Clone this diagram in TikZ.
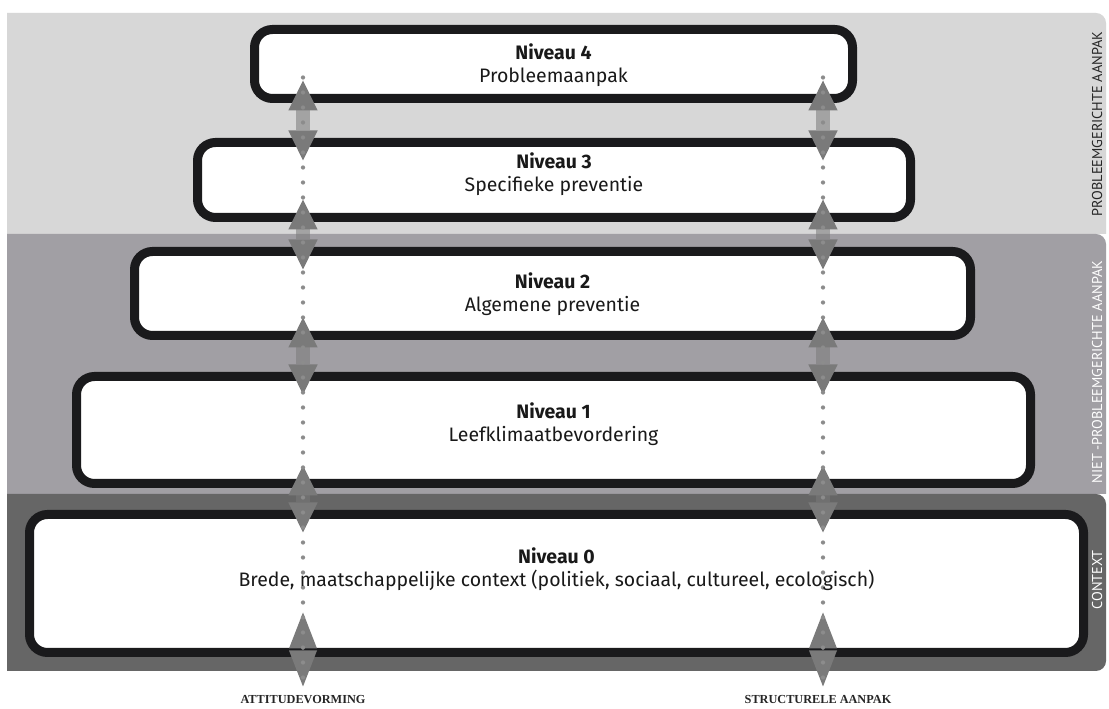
\documentclass[tikz,border=0pt]{standalone}
\usepackage{fontspec}
\setmainfont{Fira Sans}
\newfontfamily\sidefont{PT Sans}
\newfontfamily\labserif{Liberation Serif}
\usetikzlibrary{arrows.meta,calc}
\definecolor{bandA}{HTML}{D7D7D7}
\definecolor{bandB}{HTML}{A19FA4}
\definecolor{bandC}{HTML}{666666}
\definecolor{boxline}{HTML}{1A1A1C}
\definecolor{arrgray}{HTML}{7A7A7A}
\definecolor{dotgray}{HTML}{8C8C8C}
\begin{document}
\begin{tikzpicture}[x=0.75pt,y=0.75pt,
  levelbox/.style={draw=boxline, fill=white, line width=6.75pt, rounded corners=13.5pt, outer sep=0pt, inner sep=0pt},
  leveltext/.style={align=center, font=\fontsize{14.6}{17.4}\selectfont, text=black!90},
  gaparrow/.style={draw=arrgray, draw opacity=0.55, line width=10pt,
     {Triangle[length=22.5pt,width=22pt,line width=0pt]}-{Triangle[length=22.5pt,width=22pt,line width=0pt]}},
  endarrow/.style={draw=arrgray, draw opacity=0.55, line width=1pt,
     {Triangle[length=27pt,width=21pt,line width=0pt]}-{Triangle[length=27pt,width=21pt,line width=0pt]}},
  dotline/.style={draw=dotgray, line width=3.2pt, line cap=round, dash pattern=on 0pt off 11.25pt},
  sidelabel/.style={rotate=90, font=\sidefont\fontsize{10.7}{12}\selectfont},
  footlabel/.style={font=\labserif\bfseries\fontsize{9.2}{11}\selectfont, text=black!85}
]
\useasboundingbox (0,0) rectangle (1109,709);
\fill[white] (0,0) rectangle (1109,709);
% bands
\fill[bandA] (7,475) -- (7,696) -- (1096,696) arc[start angle=90,end angle=0,radius=10] -- (1106,475) -- cycle;
\fill[bandB] (7,215) -- (7,475) -- (1096,475) arc[start angle=90,end angle=0,radius=10] -- (1106,215) -- cycle;
\fill[bandC] (7,38) -- (7,215) -- (1096,215) arc[start angle=90,end angle=0,radius=10] -- (1106,48) arc[start angle=0,end angle=-90,radius=10] -- cycle;
% boxes
\node[levelbox, minimum width=448.5pt, minimum height=51.75pt] (b4) at (553.5,645) {};
\node[levelbox, minimum width=534.75pt, minimum height=56.25pt] (b3) at (554,529) {};
\node[levelbox, minimum width=627pt, minimum height=63pt] (b2) at (552.5,415.5) {};
\node[levelbox, minimum width=715.5pt, minimum height=80.25pt] (b1) at (553.5,279) {};
\node[levelbox, minimum width=790.5pt, minimum height=103.5pt] (b0) at (556.5,125.5) {};
% columns
\coordinate (cL) at (303,0);
\coordinate (cR) at (823,0);
\foreach \c in {cL,cR}{
  \coordinate (\c u1) at ($(b4.south -| \c)+(0,18)$);
  \coordinate (\c d1) at ($(b3.north -| \c)+(0,-18)$);
  \coordinate (\c u2) at ($(b3.south -| \c)+(0,18)$);
  \coordinate (\c d2) at ($(b2.north -| \c)+(0,-18)$);
  \coordinate (\c u3) at ($(b2.south -| \c)+(0,18)$);
  \coordinate (\c d3) at ($(b1.north -| \c)+(0,-18)$);
  \coordinate (\c u4) at ($(b1.south -| \c)+(0,18)$);
  \coordinate (\c d4) at ($(b0.north -| \c)+(0,-18)$);
  \coordinate (\c u5) at ($(b0.south -| \c)+(0,40)$);
  \coordinate (\c d5) at ($(b0.south -| \c)+(0,-34)$);
  \coordinate (\c top) at ($(b4.south -| \c)+(0,21)$);
  \draw[gaparrow] (\c u1) -- (\c d1);
  \draw[gaparrow] (\c u2) -- (\c d2);
  \draw[gaparrow] (\c u3) -- (\c d3);
  \draw[gaparrow] (\c u4) -- (\c d4);
  \draw[endarrow] (\c u5) -- (\c d5);
  \draw[dotline] (\c top) -- (\c d5);
}
% texts
\node[leveltext] (t4) at (553.5,644) {\textbf{Niveau 4}\\Probleemaanpak};
\node[leveltext] (t3) at (554,535) {\textbf{Niveau 3}\\Specifieke preventie};
\node[leveltext] (t2) at (552.5,415) {\textbf{Niveau 2}\\Algemene preventie};
\node[leveltext] (t1) at (553.5,285) {\textbf{Niveau 1}\\Leefklimaatbevordering};
\node[leveltext] (t0) at (556.5,140) {\textbf{Niveau 0}\\Brede, maatschappelijke context (politiek, sociaal, cultureel, ecologisch)};
% side labels
\node[sidelabel, text=black!85] (s1) at (1097,585) {PROBLEEMGERICHTE AANPAK};
\node[sidelabel, text=white] (s2) at (1097,337) {NIET -PROBLEEMGERICHTE AANPAK};
\node[sidelabel, text=white] (s3) at (1097,129) {CONTEXT};
% foot labels
\node[footlabel] (fL) at (303,9) {ATTITUDEVORMING};
\node[footlabel] (fR) at (818,9) {STRUCTURELE AANPAK};
\end{tikzpicture}
\end{document}
